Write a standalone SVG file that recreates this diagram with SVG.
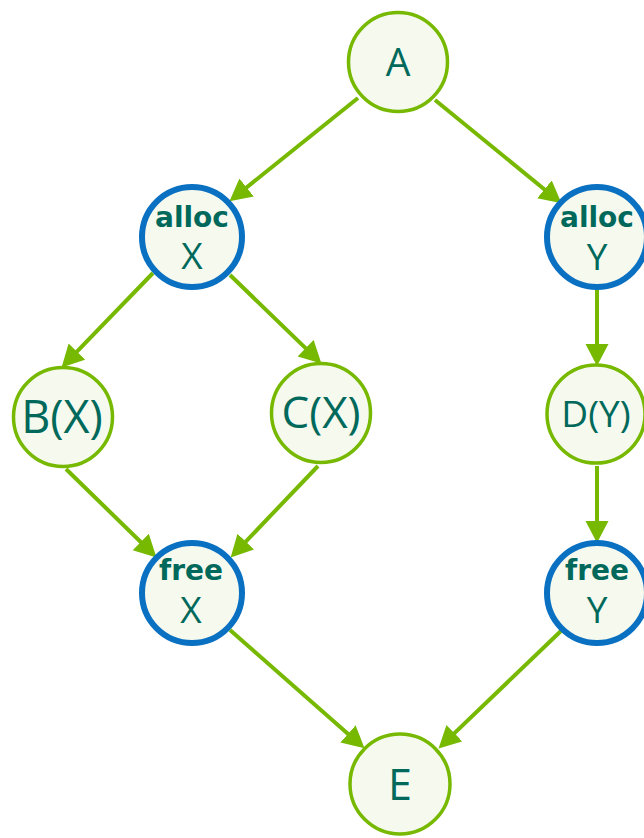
<svg xmlns="http://www.w3.org/2000/svg" width="644" height="838" viewBox="0 0 644 838">
<style>
.g{fill:#f5f9ee;stroke:#76b900;stroke-width:3.5}
.b{fill:#f5f9ee;stroke:#0a70c2;stroke-width:6}
.t{font-family:"Open Sans","Noto Sans",sans-serif;fill:#00695b;text-anchor:middle}
.tb{font-family:"DejaVu Sans",sans-serif;font-weight:bold;fill:#00695b;text-anchor:middle}
.e{stroke:#76b900;stroke-width:4;fill:none;marker-end:url(#arr)}
</style>
<defs>
<marker id="arr" markerUnits="userSpaceOnUse" markerWidth="24" markerHeight="24" refX="10" refY="11.5" orient="auto">
<path d="M0,0 L22,11.5 L0,23 Z" fill="#76b900"/>
</marker>
</defs>
<rect width="644" height="838" fill="#ffffff"/>
<g id="edges">
<line class="e" x1="358" y1="98" x2="238.8" y2="193.7"/>
<line class="e" x1="435" y1="100" x2="552.2" y2="195.7"/>
<line class="e" x1="153" y1="273" x2="69.9" y2="358.8"/>
<line class="e" x1="230" y1="275" x2="312.8" y2="355.1"/>
<line class="e" x1="597" y1="289" x2="597" y2="354"/>
<line class="e" x1="66" y1="469" x2="147.9" y2="549"/>
<line class="e" x1="318" y1="466" x2="238.9" y2="548.8"/>
<line class="e" x1="597" y1="466" x2="597" y2="531"/>
<line class="e" x1="230" y1="630" x2="355.5" y2="740.4"/>
<line class="e" x1="562" y1="630" x2="447.2" y2="740.1"/>
</g>
<g id="A"><circle class="g" cx="398" cy="62" r="49.5"/><text class="t" x="398" y="76" font-size="39">A</text></g>
<g id="allocX"><circle class="b" cx="192" cy="237" r="50"/><text class="tb" x="192" y="227" font-size="28">alloc</text><text class="t" x="192" y="269" font-size="37">X</text></g>
<g id="allocY"><circle class="b" cx="597" cy="237" r="50"/><text class="tb" x="597" y="227" font-size="28">alloc</text><text class="t" x="597" y="270" font-size="37">Y</text></g>
<g id="BX"><circle class="g" cx="63" cy="417" r="49.5"/><text class="t" x="62" y="433" font-size="45">B(X)</text></g>
<g id="CX"><circle class="g" cx="321" cy="413" r="49.5"/><text class="t" x="321" y="428" font-size="44">C(X)</text></g>
<g id="DY"><circle class="g" cx="596" cy="414" r="49"/><text class="t" x="596" y="427" font-size="37">D(Y)</text></g>
<g id="freeX"><circle class="b" cx="192" cy="593" r="50"/><text class="tb" x="191" y="580" font-size="28">free</text><text class="t" x="191" y="623" font-size="37">X</text></g>
<g id="freeY"><circle class="b" cx="597" cy="593" r="50"/><text class="tb" x="597" y="580" font-size="28">free</text><text class="t" x="597" y="623" font-size="37">Y</text></g>
<g id="E"><circle class="g" cx="400" cy="784" r="50"/><text class="t" x="400" y="800" font-size="43">E</text></g>
</svg>
